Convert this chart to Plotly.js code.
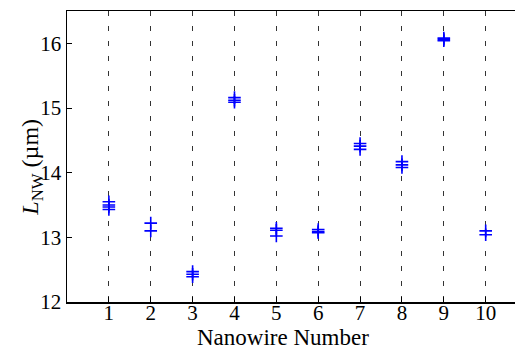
<!DOCTYPE html>
<html>
<head>
<meta charset="utf-8">
<script src="https://cdn.plot.ly/plotly-3.0.1.min.js"></script>
<style>
  html, body { margin: 0; padding: 0; background: #ffffff; }
  #chart { width: 515px; height: 349px; }
</style>
</head>
<body>
<div id="chart"></div>
<script>
// Repeated length measurements for each nanowire (µm)
const nanowireNumber = [
  1, 1, 1, 1,
  2, 2,
  3, 3, 3,
  4, 4, 4,
  5, 5, 5,
  6, 6, 6,
  7, 7, 7,
  8, 8, 8,
  9, 9, 9,
  10, 10
];
const lengthUm = [
  13.55, 13.50, 13.47, 13.43,
  13.22, 13.10,
  12.47, 12.43, 12.39,
  15.16, 15.12, 15.09,
  13.14, 13.11, 13.02,
  13.12, 13.09, 13.07,
  14.45, 14.41, 14.36,
  14.17, 14.12, 14.08,
  16.08, 16.06, 16.04,
  13.10, 13.04
];
const tickValues = [1, 2, 3, 4, 5, 6, 7, 8, 9, 10];
const yTickValues = [12, 13, 14, 15, 16];
const xTitle = 'Nanowire Number';
const yTitle = '<i>L</i><sub>NW</sub> (µm)';

const serif = 'Liberation Serif';

const trace = {
  type: 'scatter',
  mode: 'markers',
  x: nanowireNumber,
  y: lengthUm,
  marker: {
    symbol: 'cross-thin',
    size: 9,
    color: '#0000ff',
    line: { color: '#0000ff', width: 1.6 }
  },
  hoverinfo: 'x+y',
  showlegend: false
};

const layout = {
  width: 515,
  height: 349,
  margin: { l: 67, r: 0, t: 11, b: 47 },
  paper_bgcolor: '#ffffff',
  plot_bgcolor: '#ffffff',
  font: { family: serif, color: '#000000', size: 21 },
  xaxis: {
    range: [0, 10.7],
    tickvals: tickValues,
    ticktext: tickValues.map(String),
    ticks: 'inside',
    ticklen: 5,
    tickcolor: '#000000',
    ticklabelstandoff: -9,
    showline: true,
    linecolor: '#000000',
    linewidth: 1.5,
    mirror: true,
    showgrid: true,
    gridcolor: '#333333',
    gridwidth: 1,
    griddash: '5px,10px',
    zeroline: false,
    tickfont: { family: serif, size: 21, color: '#000000' }
  },
  yaxis: {
    range: [12, 16.5],
    tickvals: yTickValues,
    ticktext: yTickValues.map(String),
    ticks: 'inside',
    ticklen: 5,
    tickcolor: '#000000',
    showline: true,
    linecolor: '#000000',
    linewidth: 1.5,
    mirror: false,
    showgrid: false,
    zeroline: false,
    tickfont: { family: serif, size: 21, color: '#000000' }
  },
  // Axis titles placed as paper-anchored annotations for tight spacing
  annotations: [
    {
      text: xTitle,
      xref: 'paper', yref: 'paper',
      x: 0.482, y: -0.122,
      xanchor: 'center', yanchor: 'middle',
      showarrow: false,
      font: { family: serif, size: 23, color: '#000000' }
    },
    {
      text: yTitle,
      xref: 'paper', yref: 'paper',
      x: -0.08, y: 0.462,
      xanchor: 'center', yanchor: 'middle',
      textangle: -90,
      showarrow: false,
      font: { family: serif, size: 24, color: '#000000' }
    }
  ]
};

Plotly.newPlot('chart', [trace], layout, { staticPlot: true, displayModeBar: false });
</script>
</body>
</html>
